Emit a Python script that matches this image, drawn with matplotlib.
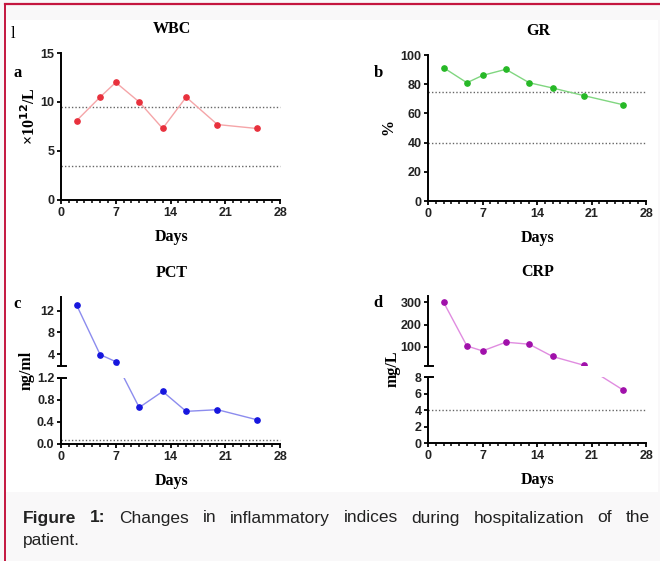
import matplotlib
matplotlib.use("Agg")
import matplotlib.pyplot as plt
from matplotlib.patches import Rectangle
import numpy as np

# data
days = [2, 5, 7, 10, 13, 16, 20, 25]
wbc = [8.1, 10.5, 12.0, 10.0, 7.3, 10.5, 7.7, 7.3]
gr = [91.3, 81.0, 86.0, 90.2, 81.0, 77.4, 72.2, 66.0]
pct = [13.0, 3.9, 2.6, 0.66, 0.95, 0.59, 0.62, 0.44]
crp = [300, 104, 82, 121, 112, 57, 18, 6.5]

wbc_ref = [9.5, 3.5]
gr_ref = [75, 40]
pct_ref = [0.08]
crp_ref = [4]

x_ticks = [0, 7, 14, 21, 28]
wbc_ticks = [0, 5, 10, 15]
gr_ticks = [0, 20, 40, 60, 80, 100]
pct_ticks = [0, 0.4, 0.8, 1.2, 4, 8, 12]
pct_labels = ["0.0", "0.4", "0.8", "1.2", "4", "8", "12"]
crp_ticks = [0, 2, 4, 6, 8, 100, 200, 300]

W, H = 660, 561
SERIF = "Liberation Serif"
SANS = "Liberation Sans"
TXT = 11.5


def fx(x):
    return x / W


def fy(y):
    return 1 - y / H


def make_axes(fig, box):
    left, top, right, bottom = box
    return fig.add_axes([fx(left), fy(bottom), (right - left) / W, (bottom - top) / H])


def style_axes(ax):
    for side in ("top", "right"):
        ax.spines[side].set_visible(False)
    for side in ("left", "bottom"):
        ax.spines[side].set_linewidth(1.4)
    ax.set_xlim(0, 28)
    ax.set_xticks(x_ticks)
    ax.set_xticks(range(0, 29), minor=True)
    ax.tick_params(axis="both", which="major", direction="out", length=3.2,
                   width=1.3, pad=1.5, labelsize=9)
    ax.tick_params(axis="x", which="minor", direction="out", length=2.4, width=1.1)
    ax.tick_params(axis="y", which="minor", left=False)
    for lab in ax.get_xticklabels() + ax.get_yticklabels():
        lab.set_family(SANS)
        lab.set_weight("bold")
        lab.set_color("#222222")
    ax.set_facecolor("white")


def draw_series(ax, values, refs, line_color, marker_color):
    for r in refs:
        ax.plot([0, 28], [r, r], linestyle=(0, (1, 1.5)), color="#666666",
                linewidth=1.0, zorder=1.5, clip_on=False)
    ax.plot(days, values, color=line_color, linewidth=1.0, zorder=2,
            marker="o", markersize=3.8, markerfacecolor=marker_color,
            markeredgecolor=marker_color, clip_on=False)


def broken_scale(ax, yvals, ypx):
    ax.set_yscale("function",
                  functions=(lambda y: np.interp(y, yvals, ypx),
                             lambda p: np.interp(p, ypx, yvals)))
    ax.set_ylim(yvals[0], yvals[-1])
    total = ypx[-1]
    lo, hi = ypx[1] / total, ypx[2] / total
    ax.add_patch(Rectangle((-0.03, lo), 1.06, hi - lo, transform=ax.transAxes,
                           facecolor="white", edgecolor="none", zorder=3,
                           clip_on=False))
    for yy in (lo, hi):
        ax.plot([-0.014, 0.024], [yy, yy], color="black", linewidth=1.4,
                transform=ax.transAxes, clip_on=False, zorder=4)


def title_and_label(ax, title, box):
    left, top, right, bottom = box
    cx = (left + right) / 2
    ax.figure.text(fx(cx + 1), fy(top - 24), title, ha="center", va="center",
                   family=SERIF, weight="bold", fontsize=TXT)
    ax.figure.text(fx(cx + 1), fy(bottom + 37), "Days", ha="center", va="center",
                   family=SERIF, weight="bold", fontsize=TXT)


fig = plt.figure(figsize=(W / 100, H / 100), dpi=100)
fig.patch.set_facecolor("#f9f8f9")

# white picture area and red frame
fig.add_artist(Rectangle((fx(6), fy(492)), (658 - 6) / W, (492 - 20) / H,
                         transform=fig.transFigure, facecolor="white",
                         edgecolor="none", zorder=0))
fig.add_artist(plt.Line2D([fx(5), 1], [fy(4), fy(4)], color="#c4163f",
                          linewidth=1.6, transform=fig.transFigure))
fig.add_artist(plt.Line2D([fx(5), fx(5)], [fy(4), 0], color="#c4163f",
                          linewidth=1.4, transform=fig.transFigure))

box_a = (61, 53, 280, 200)
box_b = (428, 55, 646, 201)
box_c = (61, 297, 280, 444)
box_d = (428, 296, 646, 443)

# a: WBC
ax = make_axes(fig, box_a)
ax.set_ylim(0, 15)
ax.set_yticks(wbc_ticks)
draw_series(ax, wbc, wbc_ref, "#f5a5a8", "#e8303c")
style_axes(ax)
title_and_label(ax, "WBC", box_a)

# b: GR
ax = make_axes(fig, box_b)
ax.set_ylim(0, 100)
ax.set_yticks(gr_ticks)
draw_series(ax, gr, gr_ref, "#80d680", "#26b826")
style_axes(ax)
title_and_label(ax, "GR", box_b)

# c: PCT (broken axis)
ax = make_axes(fig, box_c)
broken_scale(ax, [0, 1.2, 1.8, 14.5], [0, 66.4, 78, 147])
ax.set_yticks(pct_ticks)
ax.set_yticklabels(pct_labels)
draw_series(ax, pct, pct_ref, "#8c8cee", "#1616de")
style_axes(ax)
title_and_label(ax, "PCT", box_c)

# d: CRP (broken axis)
ax = make_axes(fig, box_d)
broken_scale(ax, [0, 8, 15, 328], [0, 65.7, 77.3, 147.3])
ax.set_yticks(crp_ticks)
draw_series(ax, crp, crp_ref, "#e08ce0", "#a010aa")
style_axes(ax)
title_and_label(ax, "CRP", box_d)

# panel letters and y labels
for letter, (x, y) in zip("abcd", [(18, 73), (378, 73), (17, 304), (378, 303)]):
    fig.text(fx(x), fy(y), letter, ha="center", va="center", family=SERIF,
             weight="bold", fontsize=12)
fig.text(fx(13), fy(34), "l", ha="center", va="center", family=SERIF,
         fontsize=12)

ylabels = [("\u00d710$^{\\mathbf{12}}$/L", 30, 116), ("%", 388, 127),
           ("ng/ml", 27, 370), ("mg/L", 393, 369)]
for text, x, y in ylabels:
    fig.text(fx(x), fy(y), text, ha="center", va="center", rotation=90,
             family=SERIF, weight="bold", fontsize=TXT)

# caption, first line justified
words = [("Figure", "bold"), ("1:", "bold")] + [
    (w, "normal") for w in "Changes in inflammatory indices during hospitalization of the".split()]
texts = [fig.text(0, fy(518), w, ha="left", va="center", family=SANS,
                  weight=wt, fontsize=12.5, color="#222222") for w, wt in words]
renderer = fig.canvas.get_renderer()
widths = [t.get_window_extent(renderer).width for t in texts]
gap = (650 - 23 - sum(widths)) / (len(texts) - 1)
x = 23
for t, w in zip(texts, widths):
    t.set_x(fx(x))
    x += w + gap
fig.text(fx(23), fy(541), "patient.", ha="left", va="center", family=SANS,
         fontsize=12.5, color="#222222")

fig.savefig("out.png", dpi=100, facecolor=fig.get_facecolor())
